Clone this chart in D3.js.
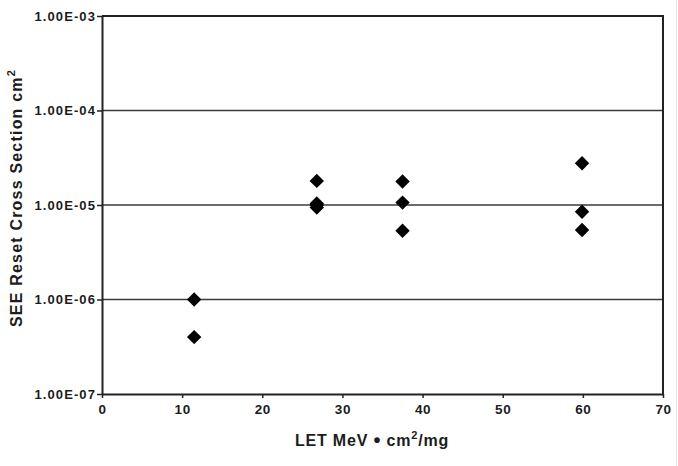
<!DOCTYPE html>
<html>
<head>
<meta charset="utf-8">
<script src="https://cdn.jsdelivr.net/npm/d3@7"></script>
<style>
  html, body { margin: 0; padding: 0; background: #fff; }
  svg { display: block; }
  text { font-family: "Liberation Sans", Arial, Helvetica, sans-serif; font-weight: bold; fill: #1c1c1c; }
</style>
</head>
<body>
<svg id="chart" width="678" height="466"></svg>
<script>
// LET values (MeV·cm²/mg) for each measured point
const letValues = [11.5, 11.5, 26.8, 26.8, 26.8, 26.8, 37.5, 37.5, 37.5, 59.9, 59.9, 59.9];
// SEE reset cross section (cm²) for each point, same order
const crossSections = [1.0e-6, 4.0e-7, 1.8e-5, 1.04e-5, 9.4e-6, 1.0e-5, 1.77e-5, 1.06e-5, 5.35e-6, 2.76e-5, 8.5e-6, 5.43e-6];

const xTicks = [0, 10, 20, 30, 40, 50, 60, 70];
const yTicks = [1e-7, 1e-6, 1e-5, 1e-4, 1e-3];
const yTickLabels = ["1.00E-07", "1.00E-06", "1.00E-05", "1.00E-04", "1.00E-03"];

const svg = d3.select("#chart");
const plotLeft = 102, plotRight = 663, plotTop = 16, plotBottom = 394;

const x = d3.scaleLinear().domain([0, 70]).range([plotLeft, plotRight]);
const y = d3.scaleLog().domain([1e-7, 1e-3]).range([plotBottom, plotTop]);

// faint outer edge on the right of the figure
svg.append("line")
  .attr("x1", 676.5).attr("x2", 676.5).attr("y1", 0).attr("y2", 466)
  .attr("stroke", "#e4e4e4").attr("stroke-width", 1);

// horizontal grid lines at each decade
svg.append("g")
  .selectAll("line")
  .data(yTicks.slice(1, -1))
  .join("line")
  .attr("x1", plotLeft).attr("x2", plotRight)
  .attr("y1", d => y(d)).attr("y2", d => y(d))
  .attr("stroke", "#3a3a3a").attr("stroke-width", 1.5);

// plot frame (top and right edges)
svg.append("path")
  .attr("d", `M${plotLeft},${y(1e-3)}H${plotRight}V${plotBottom}`)
  .attr("fill", "none").attr("stroke", "#222").attr("stroke-width", 2);

// y axis
const yAxis = d3.axisLeft(y)
  .tickValues(yTicks)
  .tickFormat((d, i) => yTickLabels[i])
  .tickSize(5)
  .tickSizeOuter(0)
  .tickPadding(1);
const gy = svg.append("g").attr("transform", `translate(${plotLeft},0)`).call(yAxis);
gy.attr("font-family", null).attr("font-size", null);
gy.select(".domain").attr("stroke", "#222").attr("stroke-width", 2);
gy.selectAll(".tick line").attr("stroke", "#222").attr("stroke-width", 1.5);
gy.selectAll(".tick text")
  .attr("font-size", 13)
  .attr("letter-spacing", "1.1px")
  .attr("fill", "#1c1c1c");

// x axis
const xAxis = d3.axisBottom(x)
  .tickValues(xTicks)
  .tickFormat(d3.format("d"))
  .tickSize(4)
  .tickSizeOuter(0)
  .tickPadding(6);
const gx = svg.append("g").attr("transform", `translate(0,${plotBottom})`).call(xAxis);
gx.attr("font-family", null).attr("font-size", null);
gx.select(".domain").attr("stroke", "#222").attr("stroke-width", 2);
gx.selectAll(".tick line").attr("stroke", "#222").attr("stroke-width", 1.5);
gx.selectAll(".tick text")
  .attr("font-size", 13.5)
  .attr("letter-spacing", "0.6px")
  .attr("fill", "#1c1c1c");

// data markers: filled diamonds
const diamond = d3.symbol().type(d3.symbolSquare).size(104);
svg.append("g")
  .selectAll("path")
  .data(letValues.map((v, i) => [v, crossSections[i]]))
  .join("path")
  .attr("d", diamond)
  .attr("transform", d => `translate(${x(d[0])},${y(d[1])}) rotate(45)`)
  .attr("fill", "#000");

// x axis title
const xt = svg.append("text")
  .attr("x", 372).attr("y", 446)
  .attr("text-anchor", "middle")
  .attr("font-size", 16)
  .attr("letter-spacing", "0.8px");
xt.append("tspan").text("LET MeV ");
xt.append("tspan").attr("font-size", 20).attr("dy", 1).text("\u2022");
xt.append("tspan").attr("dy", -1).text(" cm");
xt.append("tspan").attr("font-size", 11).attr("dy", -7).text("2");
xt.append("tspan").attr("dy", 7).text("/mg");

// y axis title
const yt = svg.append("text")
  .attr("transform", "translate(22,198) rotate(-90)")
  .attr("text-anchor", "middle")
  .attr("font-size", 16)
  .attr("letter-spacing", "1.2px");
yt.append("tspan").text("SEE Reset Cross Section cm");
yt.append("tspan").attr("font-size", 11).attr("dy", -7).text("2");
</script>
</body>
</html>
